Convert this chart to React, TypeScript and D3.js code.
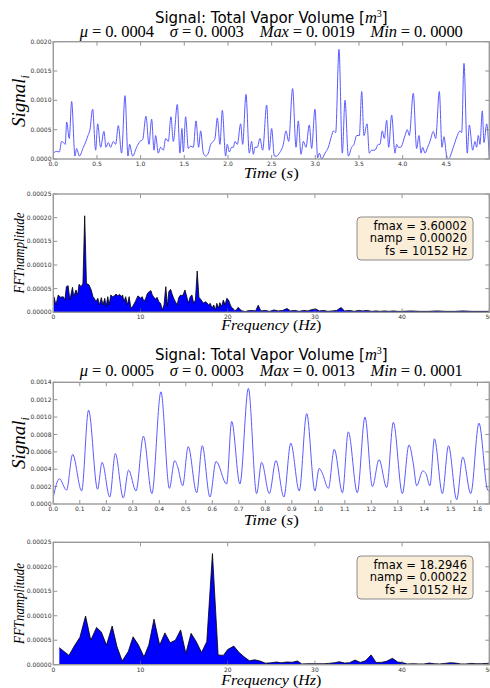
import React from "react";
import * as d3 from "d3";

// ---------- data ----------
const sig1T = [0.000,0.038,0.069,0.095,0.118,0.137,0.153,0.183,0.210,0.248,0.267,0.298,0.344,0.374,0.397,0.420,0.450,0.485,0.508,0.542,0.580,0.603,0.630,0.656,0.687,0.714,0.744,0.782,0.821,0.855,0.874,0.908,0.954,0.992,1.023,1.061,1.095,1.126,1.153,1.172,1.202,1.229,1.260,1.286,1.317,1.347,1.374,1.420,1.450,1.473,1.489,1.515,1.546,1.573,1.603,1.634,1.664,1.687,1.718,1.744,1.775,1.802,1.832,1.851,1.878,1.908,1.935,1.973,1.992,2.015,2.042,2.061,2.080,2.107,2.145,2.168,2.206,2.244,2.271,2.290,2.309,2.336,2.366,2.397,2.443,2.473,2.500,2.531,2.557,2.588,2.634,2.664,2.695,2.740,2.779,2.805,2.836,2.863,2.893,2.931,2.958,2.996,3.027,3.046,3.073,3.111,3.149,3.187,3.206,3.233,3.271,3.309,3.340,3.378,3.416,3.443,3.473,3.504,3.531,3.557,3.592,3.618,3.645,3.683,3.721,3.740,3.767,3.790,3.817,3.840,3.874,3.912,3.931,3.950,3.977,4.027,4.053,4.076,4.122,4.160,4.187,4.210,4.229,4.256,4.286,4.313,4.351,4.378,4.420,4.450,4.473,4.504,4.523,4.580,4.626,4.656,4.676,4.702,4.740,4.763,4.802,4.828,4.847,4.866,4.885,4.912,4.931,4.962,4.992];
const sig1V = [0.0001,0.00013,0.00012,0.0003,0.00028,0.00025,0.00063,0.00035,0.00098,0.00005,0.00018,0.00005,0.0002,0.0003,0.0004,0.0005,0.00085,0.00015,0.0006,0.0002,0.00047,0.0002,0.00028,0.0002,0.0003,0.00025,0.00057,0.0001,0.00108,0.00005,0.00025,0.00005,0.0002,0.0003,0.00033,0.00073,0.00025,0.00068,0.00015,0.0004,0.0001,0.0002,0.00015,0.00035,0.0003,0.00072,0.0003,0.00093,0.0001,0.00052,0.00012,0.00072,0.00018,0.00022,0.0002,0.00065,0.0002,0.00048,0.0001,0.00005,0.0001,0.00025,0.0003,0.00035,0.0007,0.00025,0.00083,0.00005,0.00025,0.00012,0.0002,0.0002,0.0003,0.00025,0.0006,0.00025,0.0011,0.0001,0.0003,0.00008,0.0002,0.0002,0.00035,0.00015,0.00092,0.00015,0.00052,0.00005,0.00005,0.0001,0.00025,0.00048,0.0003,0.0012,0.0002,0.00065,0.00008,0.0003,0.0002,0.00058,0.00018,0.00085,0.00002,0.0001,0.0,0.0001,0.0002,0.0004,0.00048,0.00045,0.00187,0.0001,0.001,0.00005,0.0002,0.00025,0.0004,0.0004,0.00115,0.0004,0.0006,0.0001,0.00015,0.00015,0.00025,0.00025,0.00048,0.00035,0.00066,0.0002,0.00075,0.0001,0.00025,0.0002,0.0002,0.0004,0.0005,0.0004,0.00112,0.00018,0.0004,0.0001,0.0002,0.0001,0.0002,0.0003,0.00047,0.00035,0.00115,0.0002,0.00038,0.00005,0.0,0.0002,0.0004,0.00048,0.00045,0.00163,0.0001,0.00058,0.00015,0.0003,0.0002,0.0004,0.00025,0.00082,0.00028,0.0006,0.0];

const sig2T = [0.000,0.023,0.050,0.073,0.107,0.133,0.167,0.184,0.213,0.234,0.264,0.284,0.312,0.340,0.372,0.406,0.438,0.458,0.469,0.488,0.509,0.541,0.562,0.591,0.614,0.654,0.673,0.704,0.736,0.767,0.786,0.815,0.840,0.870,0.896,0.928,0.956,0.987,1.003,1.014,1.038,1.060,1.091,1.113,1.147,1.176,1.204,1.229,1.258,1.283,1.317,1.342,1.358,1.371,1.394,1.406,1.421,1.438,1.468,1.491,1.522,1.545,1.575,1.606,1.639,1.645];
const sig2V = [0.00008,0.00029,0.00016,0.00057,0.00015,0.00108,0.00017,0.00048,0.00008,0.00058,0.00007,0.00039,0.00015,0.00078,0.00012,0.00129,0.00018,0.0005,0.00043,0.00021,0.00066,0.00013,0.00067,0.00008,0.00049,0.00023,0.00095,0.00023,0.00133,0.00012,0.00048,0.00012,0.0005,0.00008,0.0007,0.00015,0.00104,0.00015,0.00041,0.00036,0.00018,0.00063,0.00013,0.00083,0.00013,0.001,0.0002,0.00051,0.00019,0.00094,0.00012,0.00068,0.00047,0.00021,0.00038,0.00035,0.00021,0.00075,0.00012,0.00067,0.00005,0.00054,0.00012,0.00093,0.00016,0.00015];

const fft1F = [0.08,0.3,0.57,0.83,1.14,1.33,1.5,1.7,1.9,2.2,2.35,2.6,2.8,2.95,3.2,3.4,3.6,3.8,4.1,4.35,4.55,4.7,4.9,5.1,5.3,5.5,5.7,5.9,6.06,6.25,6.4,6.6,6.8,7.0,7.2,7.4,7.6,7.8,7.95,8.1,8.3,8.5,8.7,8.9,9.1,9.4,9.7,9.85,10.0,10.2,10.4,10.6,10.8,11.0,11.2,11.35,11.5,11.7,11.9,12.1,12.3,12.5,12.7,12.9,13.1,13.25,13.45,13.6,13.8,14.0,14.2,14.4,14.6,14.8,14.95,15.1,15.35,15.5,15.7,15.9,16.1,16.3,16.5,16.7,16.9,17.1,17.25,17.4,17.6,17.8,18.0,18.2,18.4,18.6,18.75,18.95,19.1,19.3,19.5,19.7,19.9,20.1,20.3,20.5,20.6,20.8,21.0,21.2,21.4,21.6,22.0,22.35,22.8,23.2,23.5,23.8,24.3,24.8,25.3,25.8,26.3,26.8,27.2,27.7,28.2,28.7,29.2,29.7,30.1,30.5,31.0,31.5,32.0,32.5,33.0,33.4,34.0,34.5,35.0,35.5,36.0,36.5,37.0,37.5,38.0,38.5,39.0,39.5,40.0,41.0,42.0,43.0,44.0,45.0,46.0,47.0,48.0,49.0,50.0];
const fft1A = [0.000033,0.0000155,0.0000366,0.0000317,0.000033,0.000026,0.0000542,0.0000563,0.000026,0.0000528,0.000033,0.0000472,0.0000366,0.0000591,0.0000542,0.0000612,0.000204,0.0000612,0.0000577,0.0000472,0.000033,0.0000296,0.0000225,0.0000296,0.0000155,0.000031,0.0000155,0.0000296,0.000012,0.000033,0.0000155,0.0000366,0.000033,0.0000345,0.0000387,0.0000345,0.000038,0.000033,0.0000366,0.0000225,0.000033,0.0000155,0.000033,0.0000085,0.000012,0.0000225,0.0000345,0.000033,0.0000296,0.000033,0.0000225,0.0000296,0.0000401,0.0000436,0.0000458,0.0000366,0.000033,0.0000275,0.0000317,0.0000225,0.000019,0.0000049,0.0000155,0.0000542,0.000012,0.0000436,0.0000486,0.0000401,0.0000296,0.0000225,0.0000155,0.0000317,0.0000366,0.0000345,0.0000401,0.0000472,0.0000296,0.000019,0.000033,0.0000366,0.000019,0.000026,0.0000873,0.0000317,0.0000275,0.0000225,0.000019,0.0000225,0.0000204,0.0000155,0.000019,0.0000085,0.0000155,0.0000049,0.000019,0.0000085,0.0000204,0.000012,0.000026,0.0000155,0.0000296,0.000026,0.0000155,0.0000085,0.0000085,0.0000035,0.0000049,0.0000106,0.0000063,0.0000035,0.0000014,0.0000035,0.000004,0.000003,0.000015,0.000003,0.000004,0.000002,0.000005,0.000003,0.000004,0.000008,0.000003,0.000004,0.000002,0.000004,0.000003,0.000006,0.000007,0.000003,0.000004,0.000002,0.000003,0.000004,0.00001,0.000003,0.000004,0.000002,0.000004,0.000003,0.000004,0.000002,0.000003,0.000002,0.000003,0.000002,0.000003,0.000002,0.000002,0.000003,0.000002,0.000002,0.000003,0.000002,0.000002,0.000003,0.000002,0.000002,0.000002];

const fft2F = [0.69,1.8,2.37,3.05,3.7,4.3,4.96,5.5,6.1,6.75,7.3,7.9,8.6,9.15,9.77,10.4,10.95,11.55,12.2,12.8,13.4,14.0,14.6,15.2,15.8,16.4,17.0,17.6,18.25,18.9,19.5,20.0,20.7,21.3,21.95,22.5,23.1,23.7,24.35,24.96,25.6,26.1,26.8,27.4,28.0,28.5,29.2,29.8,30.4,31.0,31.6,32.25,32.8,33.4,33.97,34.6,35.2,35.8,36.45,37.0,37.6,38.2,38.9,39.5,40.1,40.6,41.3,41.9,42.5,43.1,43.7,44.3,44.9,45.5,46.1,46.75,47.3,47.9,48.5,49.1,49.7,50.0];
const fft2A = [0.0000347,0.000019,0.000037,0.000056,0.0000995,0.00005,0.000076,0.000067,0.00004,0.000079,0.000037,0.0000075,0.000027,0.000057,0.00004,0.000016,0.00004,0.000093,0.00004,0.000065,0.000045,0.00005,0.000071,0.000023,0.000064,0.000047,0.000025,0.000047,0.000227,0.00002,0.000019,0.000031,0.000038,0.000025,0.000015,0.000008,0.00001,0.0000075,0.000003,0.000004,0.0000055,0.000004,0.0000055,0.000005,0.0000075,0.0000015,0.000002,0.000002,0.000002,0.000002,0.0000027,0.000004,0.000006,0.0000034,0.000004,0.0000095,0.0000047,0.000008,0.00002,0.0000047,0.0000047,0.0000068,0.000013,0.0000054,0.000004,0.0000015,0.000002,0.0000015,0.0000015,0.0000034,0.000002,0.0000015,0.0000027,0.000004,0.0000034,0.0000015,0.0000015,0.0000027,0.000002,0.000002,0.0000027,0.0000027];

const sig1XTicks = [0.0,0.5,1.0,1.5,2.0,2.5,3.0,3.5,4.0,4.5];
const sig1YTicks = [0.0,0.0005,0.001,0.0015,0.002];
const sig2XTicks = [0.0,0.1,0.2,0.3,0.4,0.5,0.6,0.7,0.8,0.9,1.0,1.1,1.2,1.3,1.4,1.5,1.6];
const sig2YTicks = [0.0,0.0002,0.0004,0.0006,0.0008,0.001,0.0012,0.0014];
const fftXTicks = [0,10,20,30,40,50];
const fftYTicks = [0,0.00005,0.0001,0.00015,0.0002,0.00025];

const statNames = ["μ", "σ", "Max", "Min"];
const stats1 = ["0.0004", "0.0003", "0.0019", "0.0000"];
const stats2 = ["0.0005", "0.0003", "0.0013", "0.0001"];
const box1 = ["fmax = 3.60002", "namp = 0.00020", "fs = 10152 Hz"];
const box2 = ["fmax = 18.2946", "namp = 0.00022", "fs = 10152 Hz"];

// ---------- layout ----------
const W = 490, H = 688;
const L = 53.3, R = 489.3;
const SANS = "DejaVu Sans";
const SERIF = "Liberation Serif";

type AxProps = {
  id: string; top: number; bottom: number;
  xDom: [number, number]; yDom: [number, number];
  xTicks: number[]; yTicks: number[];
  xFmt: (v: number) => string; yFmt: (v: number) => string;
  children: (x: d3.ScaleLinear<number, number>, y: d3.ScaleLinear<number, number>) => React.ReactNode;
};

function Axes({ id, top, bottom, xDom, yDom, xTicks, yTicks, xFmt, yFmt, children }: AxProps) {
  const x = d3.scaleLinear().domain(xDom).range([L, R]);
  const y = d3.scaleLinear().domain(yDom).range([bottom, top]);
  const tl = 4;
  const tickC = "#666";
  return (
    <g>
      <defs>
        <clipPath id={id}>
          <rect x={L} y={top} width={R - L} height={bottom - top} />
        </clipPath>
      </defs>
      <g clipPath={`url(#${id})`}>{children(x, y)}</g>
      {xTicks.map((t, i) => (
        <g key={"x" + i}>
          <line x1={x(t)} x2={x(t)} y1={bottom} y2={bottom - tl} stroke={tickC} strokeWidth={0.7} />
          <line x1={x(t)} x2={x(t)} y1={top} y2={top + tl} stroke={tickC} strokeWidth={0.7} />
          <text x={x(t)} y={bottom + 6.8} fontFamily={SANS} fontSize={6} fill="#333" textAnchor="middle">{xFmt(t)}</text>
        </g>
      ))}
      {yTicks.map((t, i) => (
        <g key={"y" + i}>
          <line x1={L} x2={L + tl} y1={y(t)} y2={y(t)} stroke={tickC} strokeWidth={0.7} />
          <line x1={R} x2={R - tl} y1={y(t)} y2={y(t)} stroke={tickC} strokeWidth={0.7} />
          <text x={L - 1.8} y={y(t) + 2.1} fontFamily={SANS} fontSize={6} fill="#333" textAnchor="end">{yFmt(t)}</text>
        </g>
      ))}
      <rect x={L} y={top} width={R - L} height={bottom - top} fill="none" stroke="#9a9a9a" strokeWidth={1.4} />
    </g>
  );
}

function SignalPlot({ id, top, bottom, T, V, xMax, yMax, xTicks, yTicks }: any) {
  const pts = T.map((t: number, i: number) => [t, V[i]] as [number, number]);
  return (
    <Axes id={id} top={top} bottom={bottom} xDom={[0, xMax]} yDom={[0, yMax]}
      xTicks={xTicks} yTicks={yTicks} xFmt={(v) => v.toFixed(1)} yFmt={(v) => v.toFixed(4)}>
      {(x, y) => {
        const line = d3.line<[number, number]>().x((d) => x(d[0])).y((d) => y(d[1])).curve(d3.curveMonotoneX);
        return <path d={line(pts) || ""} fill="none" stroke="#5a5aff" strokeWidth={1} />;
      }}
    </Axes>
  );
}

function FFTPlot({ id, top, bottom, F, A }: any) {
  const pts = F.map((f: number, i: number) => [f, A[i]] as [number, number]);
  return (
    <Axes id={id} top={top} bottom={bottom} xDom={[0, 50]} yDom={[0, 0.00025]}
      xTicks={fftXTicks} yTicks={fftYTicks} xFmt={(v) => String(v)} yFmt={(v) => v.toFixed(5)}>
      {(x, y) => {
        const area = d3.area<[number, number]>().x((d) => x(d[0])).y0(y(0)).y1((d) => y(d[1]));
        const line = d3.line<[number, number]>().x((d) => x(d[0])).y((d) => y(d[1]));
        return (
          <g>
            <path d={area(pts) || ""} fill="#0000ff" />
            <path d={line(pts) || ""} fill="none" stroke="#000" strokeWidth={0.8} />
          </g>
        );
      }}
    </Axes>
  );
}

function Title({ y1, y2, stats }: { y1: number; y2: number; stats: string[] }) {
  const cx = 271.3;
  return (
    <g>
      <text x={cx} y={y1} textAnchor="middle" fontFamily={SANS} fontSize={15} fill="#000">
        Signal: Total Vapor Volume [<tspan fontFamily={SERIF} fontStyle="italic" fontSize={16.5}>m</tspan>
        <tspan dy={-6} fontSize={10} fontFamily={SERIF}>3</tspan><tspan dy={6}>]</tspan>
      </text>
      <text x={cx} y={y2} textAnchor="middle" fontFamily={SERIF} fontSize={16.5} fill="#000"
        textLength={383} lengthAdjust="spacing" style={{ whiteSpace: "pre" }}>
        {statNames.map((n, i) => (
          <tspan key={i}>
            <tspan fontStyle="italic">{n}</tspan>
            <tspan>{" = " + stats[i].slice(0, 2) + " " + stats[i].slice(2) + (i < 3 ? "    " : "")}</tspan>
          </tspan>
        ))}
      </text>
    </g>
  );
}

function YLabelSignal({ cy }: { cy: number }) {
  return (
    <text transform={`translate(25,${cy}) rotate(-90)`} textAnchor="middle" fontFamily={SERIF} fontStyle="italic" fontSize={19} fill="#000">
      Signal<tspan dy={4} fontSize={12}>i</tspan>
    </text>
  );
}

function YLabelFFT({ cy }: { cy: number }) {
  return (
    <text transform={`translate(24,${cy}) rotate(-90)`} textAnchor="middle" fontFamily={SERIF} fontStyle="italic" fontSize={15.5} fill="#000" textLength={81} lengthAdjust="spacingAndGlyphs">
      FFTnamplitude
    </text>
  );
}

function XLabel({ y, main, unit, len }: { y: number; main: string; unit: string; len: number }) {
  return (
    <text x={271.3} y={y} textAnchor="middle" fontFamily={SERIF} fontSize={15.5} fill="#000" textLength={len} lengthAdjust="spacingAndGlyphs">
      <tspan fontStyle="italic">{main}</tspan> (<tspan fontStyle="italic">{unit}</tspan>)
    </text>
  );
}

function InfoBox({ top, lines }: { top: number; lines: string[] }) {
  return (
    <g>
      <rect x={357} y={top} width={116} height={43} rx={4} ry={4} fill="#faeed9" stroke="#8a8a8a" strokeWidth={1} />
      {lines.map((s, i) => (
        <text key={i} x={467} y={top + 12.8 + i * 12.5} textAnchor="end" fontFamily={SANS} fontSize={11.5} fill="#000">{s}</text>
      ))}
    </g>
  );
}

export default function App() {
  return (
    <svg width={W} height={H} style={{ position: "absolute", left: 0, top: 0, background: "#fff" }}>
      <rect x={0} y={0} width={W} height={H} fill="#fff" />
      <Title y1={22.5} y2={36.5} stats={stats1} />
      <SignalPlot id="c1" top={41.7} bottom={159} T={sig1T} V={sig1V} xMax={4.992} yMax={0.002} xTicks={sig1XTicks} yTicks={sig1YTicks} />
      <YLabelSignal cy={101} />
      <XLabel y={178} main="Time" unit="s" len={55} />

      <FFTPlot id="c2" top={194} bottom={312.3} F={fft1F} A={fft1A} />
      <YLabelFFT cy={253} />
      <XLabel y={329.5} main="Frequency" unit="Hz" len={100} />
      <InfoBox top={217} lines={box1} />

      <Title y1={359.5} y2={376} stats={stats2} />
      <SignalPlot id="c3" top={382.3} bottom={504} T={sig2T} V={sig2V} xMax={1.645} yMax={0.0014} xTicks={sig2XTicks} yTicks={sig2YTicks} />
      <YLabelSignal cy={443} />
      <XLabel y={524.5} main="Time" unit="s" len={55} />

      <FFTPlot id="c4" top={542.3} bottom={664.7} F={fft2F} A={fft2A} />
      <YLabelFFT cy={603.5} />
      <XLabel y={685} main="Frequency" unit="Hz" len={100} />
      <InfoBox top={556} lines={box2} />
    </svg>
  );
}
